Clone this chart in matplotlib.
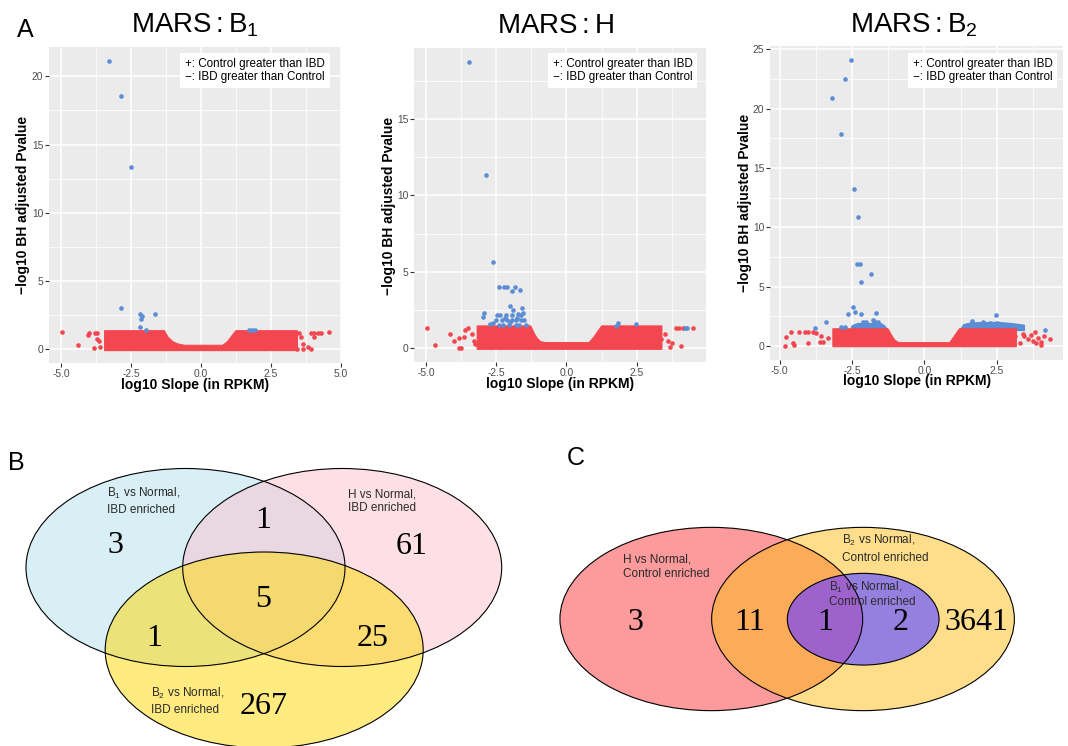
import matplotlib
matplotlib.use('Agg')
import matplotlib.pyplot as plt
from matplotlib.patches import Ellipse
from matplotlib.ticker import MultipleLocator

plt.rcParams['font.family'] = ['Liberation Sans', 'DejaVu Sans']
plt.rcParams['mathtext.fontset'] = 'custom'
plt.rcParams['mathtext.rm'] = 'Liberation Sans'
plt.rcParams['mathtext.it'] = 'Liberation Sans:italic'
plt.rcParams['mathtext.bf'] = 'Liberation Sans:bold'

RED = '#F4464E'
BLUE = '#5B8DD4'

# ---- panel A data ----
# dense red mass of each volcano plot, given as its outline
band1_x = [-3.45, -3.45, -1.31, -1.19, -1.01, -0.83, -0.59, 0.78, 0.95, 1.10, 1.25, 3.45, 3.45]
band1_y = [-0.12, 1.34, 1.34, 0.90, 0.54, 0.37, 0.27, 0.27, 0.54, 0.95, 1.34, 1.34, -0.12]
band2_x = [-3.18, -3.18, -1.27, -1.15, -1.04, -0.92, -0.74, 0.81, 0.99, 1.11, 1.26, 3.40, 3.40]
band2_y = [-0.07, 1.46, 1.46, 0.98, 0.65, 0.43, 0.37, 0.37, 0.76, 1.09, 1.46, 1.46, -0.07]
band3_x = [-3.16, -3.16, -1.26, -1.14, -1.03, -0.91, -0.80, 0.87, 0.98, 1.10, 1.21, 3.17, 3.17]
band3_y = [-0.06, 1.45, 1.45, 0.93, 0.51, 0.31, 0.28, 0.28, 0.65, 1.07, 1.45, 1.45, -0.06]
# dense blue mass just above the threshold in MARS:B2
blue3L_x = [-2.55, -2.50, -2.30, -1.50, -1.37, -1.25]
blue3L_y = [1.30, 1.70, 1.90, 1.90, 1.70, 1.30]
blue3R_x = [1.22, 1.35, 1.60, 2.50, 3.00, 3.45, 3.45]
blue3R_y = [1.30, 1.80, 1.95, 2.00, 1.90, 1.75, 1.30]

# single points, MARS:B1
red1_x = [-4.99, -4.39, -4.06, -4.01, -3.80, -3.74, -3.74, -3.65, -3.82, -3.62, 3.10, 3.29, 3.44, 3.64, 3.94,
          3.64, 3.82, 3.94, 4.06, 4.18, 4.30, 4.57, 4.04, 3.49, 3.58]
red1_y = [1.22, 0.29, 1.03, 1.15, 1.20, 1.15, 0.70, 0.60, 0.07, 0.17, 0.30, 0.44, 0.00, 0.00, 0.00,
          0.34, 0.17, 1.20, 1.20, 1.20, 1.20, 1.22, 0.90, 1.15, 0.90]
blue1_x = [-3.29, -2.85, -2.50, -2.87, -2.20, -2.10, -2.13, -1.64, -2.17, -1.98, 1.73, 1.81, 1.95]
blue1_y = [21.10, 18.56, 13.37, 2.98, 2.57, 2.45, 2.18, 2.57, 1.64, 1.39, 1.42, 1.42, 1.42]

# single points, MARS:H
red2_x = [-4.96, -4.69, -4.15, -4.01, -3.83, -3.65, -3.83, -3.74, -3.60, -3.50, -3.38, -3.30, -3.24,
          3.52, 3.61, 3.76, 3.67, 4.08, 3.05, 3.10, 3.90, 4.02, 4.14, 4.50, 3.37]
red2_y = [1.31, 0.22, 0.92, 0.48, 0.65, 0.76, 0.04, 0.04, 1.20, 1.31, 0.90, 0.48, 0.26,
          0.94, 0.50, 0.37, 0.10, 0.15, 0.65, 0.43, 1.31, 1.31, 1.31, 1.31, 0.60]
blue2_x = [-3.46, -2.87, -2.63, -2.40, -2.24, -2.11, -1.83, -1.94, -1.67, -2.02, -1.91, -1.58, -2.94,
           -2.96, -2.74, -1.56, -1.71, -2.46, -2.38, -2.17, -1.93, -1.63, -2.52, -2.31, -2.11, -1.93,
           -1.81, -1.63, -1.51, -2.40, -2.26, -2.05, -1.81, -1.69, -1.45, -2.20, -2.00, -1.75, -2.60,
           1.85, 2.49, 1.75, 4.23, 4.29]
blue2_y = [18.70, 11.35, 5.64, 4.00, 3.99, 3.99, 4.03, 3.75, 3.79, 2.79, 2.50, 2.61, 2.33,
           2.05, 1.59, 2.33, 2.24, 2.18, 2.18, 2.18, 2.18, 2.18, 1.85, 1.85, 1.85, 1.85,
           1.85, 1.85, 1.85, 1.52, 1.52, 1.52, 1.52, 1.52, 1.52, 1.95, 1.70, 2.00, 1.65,
           1.68, 1.57, 1.46, 1.35, 1.35]

# single points, MARS:B2
red3_x = [-4.82, -4.77, -4.61, -4.53, -4.50, -4.34, -4.13, -4.02, -3.84, -4.02, -3.61, -3.50, -3.56,
          -3.73, -3.33, 3.40, 3.45, 3.68, 3.80, 3.57, 3.74, 3.91, 4.01, 4.14, 4.32, 4.03, 3.11, 3.28, 3.86]
red3_y = [0.03, 0.78, 1.20, 0.23, 0.06, 1.20, 1.20, 1.20, 1.20, 0.23, 0.30, 0.37, 0.80,
          1.07, 0.70, 1.00, 0.80, 0.94, 1.14, 0.60, 0.45, 0.68, 0.06, 0.84, 0.62, 0.34, 0.80, 0.23, 0.28]
blue3_x = [-2.53, -2.74, -3.20, -2.89, -2.43, -2.30, -2.34, -2.22, -1.84, -2.20, -2.46, -2.41, -2.64,
           -2.20, -1.68, -3.40, -1.77, 2.46, -3.79, -2.87, -2.73, -2.12, -2.01, -1.74, -1.60, 4.16,
           1.65, 2.03, 2.26, 2.49]
blue3_y = [24.07, 22.47, 20.87, 17.83, 13.20, 10.90, 6.91, 6.91, 6.04, 5.42, 3.31, 2.89, 2.70,
           2.70, 2.76, 2.02, 2.19, 2.61, 1.54, 1.63, 1.63, 2.05, 2.05, 2.13, 2.05, 1.35,
           2.13, 2.00, 1.95, 1.95]

legend_text = '+: Control greater than IBD\n\u2212: IBD greater than Control'

# ---- panel B / C data ----
venn_b_counts = ['3', '1', '61', '5', '1', '25', '267']
venn_c_counts = ['3', '11', '1', '2', '3641']

W, H = 1068, 746
fig = plt.figure(figsize=(W / 100, H / 100), dpi=100)


def fx(x):
    return x / W


def fy(y):
    return 1 - y / H


def volcano(box, title, tx, band, reds, blues, xlim, ylim, xticks, yticks, leg_x, ylab_x, xlab, blue_bands=()):
    left, top, right, bottom = box
    ax = fig.add_axes([fx(left), fy(bottom), (right - left) / W, (bottom - top) / H])
    ax.set_facecolor('#EBEBEB')
    ax.set_xlim(*xlim)
    ax.set_ylim(*ylim)
    ax.set_xticks(xticks)
    ax.set_xticklabels(['%.1f' % t for t in xticks])
    ax.set_yticks(yticks)
    ax.xaxis.set_minor_locator(MultipleLocator(1.25))
    ax.yaxis.set_minor_locator(MultipleLocator(2.5))
    ax.grid(which='major', color='white', lw=1.1)
    ax.grid(which='minor', color='white', lw=0.55)
    ax.set_axisbelow(True)
    for s in ax.spines.values():
        s.set_visible(False)
    ax.tick_params(which='minor', length=0)
    ax.tick_params(which='major', length=3, width=0.8, color='#333333',
                   labelsize=7.4, labelcolor='#4D4D4D', pad=1.2)
    for bx, by in blue_bands:
        ax.fill(bx, by, color=BLUE, lw=0.8, ec=BLUE)
    ax.fill(band[0], band[1], color=RED, lw=0.8, ec=RED)
    ax.scatter(reds[0], reds[1], s=11, c=RED, lw=0)
    ax.scatter(blues[0], blues[1], s=11, c=BLUE, lw=0)
    fig.text(fx(tx), fy(32.7), title, fontsize=20, ha='center', va='baseline')
    fig.text(fx(leg_x), fy(70.8), legend_text, fontsize=8.4, ha='left', va='center', linespacing=1.15,
             bbox=dict(boxstyle='square,pad=0.42', fc='white', ec='none'))
    fig.text(fx(ylab_x[0]), fy(ylab_x[1]), '\u2212log10 BH adjusted Pvalue', fontsize=10, fontweight='bold',
             rotation=90, ha='center', va='center')
    fig.text(fx(xlab[0]), fy(xlab[1]), 'log10 Slope (in RPKM)', fontsize=10, fontweight='bold',
             ha='center', va='center')
    return ax


volcano((49, 47, 341, 363), r'$\mathregular{MARS:B_1}$', 194.7, (band1_x, band1_y),
        (red1_x, red1_y), (blue1_x, blue1_y), (-5.44, 5.01), (-1.03, 22.16),
        [-5, -2.5, 0, 2.5, 5], [0, 5, 10, 15, 20], 185.3, (23.0, 205), (195.2, 384.7))
volcano((414, 48, 706, 362), r'$\mathregular{MARS:H}$', 555, (band2_x, band2_y),
        (red2_x, red2_y), (blue2_x, blue2_y), (-5.43, 4.97), (-0.9, 19.64),
        [-5, -2.5, 0, 2.5], [0, 5, 10, 15], 552.7, (389.0, 205.8), (560, 384))
volcano((770, 46, 1063, 360), r'$\mathregular{MARS:B_2}$', 914, (band3_x, band3_y),
        (red3_x, red3_y), (blue3_x, blue3_y), (-5.33, 4.78), (-1.18, 25.27),
        [-5, -2.5, 0, 2.5], [0, 5, 10, 15, 20, 25], 912.7, (745.5, 203.3), (916.7, 381.3),
        blue_bands=[(blue3L_x, blue3L_y), (blue3R_x, blue3R_y)])

# panel letters
fig.text(fx(16.7), fy(36.7), 'A', fontsize=18, va='baseline')
fig.text(fx(8.3), fy(470), 'B', fontsize=18, va='baseline')
fig.text(fx(567), fy(465), 'C', fontsize=18, va='baseline')

# ---- Venn diagrams, drawn in pixel units ----
vax = fig.add_axes([0, 0, 1, (H - 430) / H])
vax.set_xlim(0, W)
vax.set_ylim(H, 430)
vax.axis('off')

# B: light blue, pink and yellow sets blended
e_b1 = Ellipse((185.5, 567.5), 319, 198, fc='#D8EFF5', ec='none')
e_h = Ellipse((342.2, 567.5), 319, 198, fc='#FBC3CF', alpha=0.5, ec='none')
e_b2 = Ellipse((264.2, 650), 318, 196, fc='#FFD900', alpha=0.5, ec='none')
for e in [e_b1, e_h, e_b2]:
    vax.add_patch(e)
for c, w, h in [((185.5, 567.5), 319, 198), ((342.2, 567.5), 319, 198), ((264.2, 650), 318, 196)]:
    vax.add_patch(Ellipse(c, w, h, fill=False, ec='black', lw=0.8))

b_pos = [(115, 553.3), (263.3, 528.3), (411.7, 554), (263.3, 606.7), (154, 645.7), (372.7, 645.7), (263.3, 714)]
for t, (x, y) in zip(venn_b_counts, b_pos):
    vax.text(x, y, t, fontsize=23, family='Liberation Serif', ha='center', va='baseline')

# C: red and yellow sets, purple set inside yellow
c_red = Ellipse((711.3, 619), 302.7, 183.3, fc='#FC9A9C', ec='none')
vax.add_patch(c_red)
vax.add_patch(Ellipse((863, 619), 302.7, 183.3, fc='#FEDE8A', ec='none'))
c_or = Ellipse((863, 619), 302.7, 183.3, fc='#FCAB58', ec='none')
vax.add_patch(c_or)
c_or.set_clip_path(c_red)
vax.add_patch(Ellipse((863.2, 619.2), 151.7, 91.7, fc='#9580E0', ec='none'))
c_pr = Ellipse((863.2, 619.2), 151.7, 91.7, fc='#9E62CC', ec='none')
vax.add_patch(c_pr)
c_pr.set_clip_path(c_red)
for c, w, h in [((711.3, 619), 302.7, 183.3), ((863, 619), 302.7, 183.3), ((863.2, 619.2), 151.7, 91.7)]:
    vax.add_patch(Ellipse(c, w, h, fill=False, ec='black', lw=0.8))

c_pos = [(635, 630), (749.3, 630), (825, 630), (900.7, 630), (976, 630)]
for t, (x, y) in zip(venn_c_counts, c_pos):
    vax.text(x, y, t, fontsize=23, family='Liberation Serif', ha='center', va='baseline')

# set labels, one line at a time
venn_labels = [
    (107.3, 493.3, r'$\mathregular{B_1}$ vs Normal,'), (107.3, 509.3, 'IBD enriched'),
    (347.7, 493.3, 'H vs Normal,'), (347.7, 506.7, 'IBD enriched'),
    (150.7, 693.3, r'$\mathregular{B_2}$ vs Normal,'), (150.7, 708.7, 'IBD enriched'),
    (623.3, 559, 'H vs Normal,'), (623.3, 573.3, 'Control enriched'),
    (841.7, 540, r'$\mathregular{B_2}$ vs Normal,'), (841.7, 556.7, 'Control enriched'),
    (829.3, 586.7, r'$\mathregular{B_1}$ vs Normal,'), (829.3, 601, 'Control enriched'),
]
for x, y, t in venn_labels:
    vax.text(x, y + 4, t, fontsize=8.5, color='#2A2A2A', ha='left', va='baseline')

plt.savefig('out.png', dpi=100)
